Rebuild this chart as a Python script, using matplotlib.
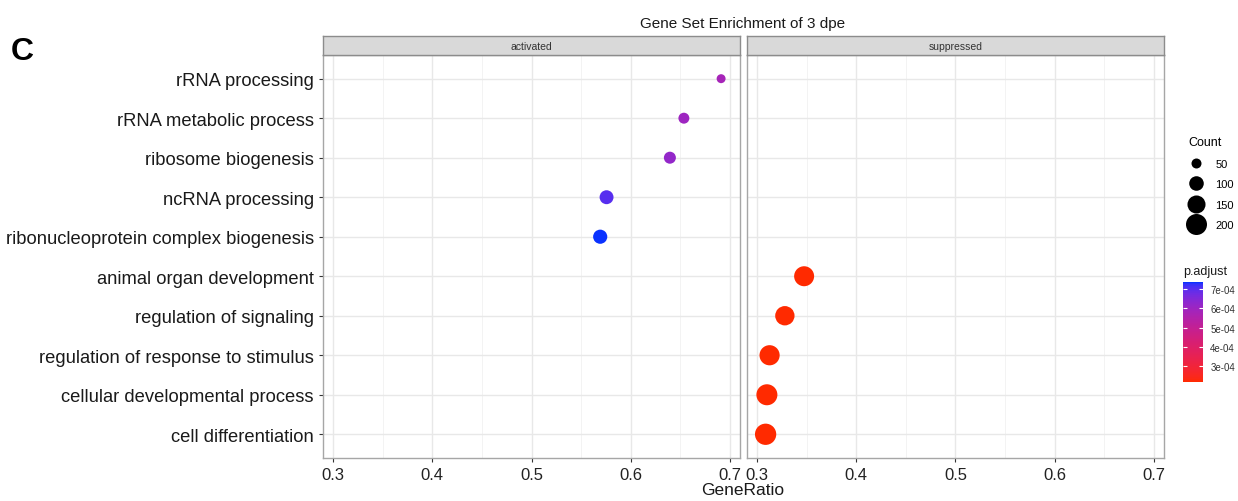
import numpy as np
import matplotlib
matplotlib.use("Agg")
import matplotlib.pyplot as plt
import matplotlib.colors as mcolors
from matplotlib.lines import Line2D

plt.rcParams['font.family'] = ['Liberation Sans', 'DejaVu Sans']

# data
terms_act = ["rRNA processing", "rRNA metabolic process", "ribosome biogenesis",
             "ncRNA processing", "ribonucleoprotein complex biogenesis"]
ratio_act = [0.691, 0.6535, 0.6394, 0.5756, 0.5692]
count_act = [41, 59, 70, 92, 95]
padj_act = [5.8e-4, 6.0e-4, 6.2e-4, 7.0e-4, 7.36e-4]

terms_sup = ["animal organ development", "regulation of signaling",
             "regulation of response to stimulus", "cellular developmental process",
             "cell differentiation"]
ratio_sup = [0.3476, 0.3282, 0.3128, 0.3101, 0.3088]
count_sup = [182, 171, 185, 200, 205]
padj_sup = [2.17e-4, 2.18e-4, 2.18e-4, 2.17e-4, 2.17e-4]

legend_counts = [50, 100, 150, 200]
padj_ticks = [3e-4, 4e-4, 5e-4, 6e-4, 7e-4]

terms = terms_act + terms_sup


# ggplot-like gradient (interpolated in Lab space)
WHITE = np.array([0.95047, 1.0, 1.08883])
M = np.array([[0.4124, 0.3576, 0.1805], [0.2126, 0.7152, 0.0722], [0.0193, 0.1192, 0.9505]])

def to_lab(c):
    rgb = np.array(mcolors.to_rgb(c))
    lin = np.where(rgb <= 0.04045, rgb / 12.92, ((rgb + 0.055) / 1.055) ** 2.4)
    xyz = M @ lin / WHITE
    f = np.where(xyz > 0.008856, np.cbrt(xyz), 7.787 * xyz + 16 / 116)
    return np.array([116 * f[1] - 16, 500 * (f[0] - f[1]), 200 * (f[1] - f[2])])

def from_lab(lab):
    fy = (lab[0] + 16) / 116
    f = np.array([fy + lab[1] / 500, fy, fy - lab[2] / 200])
    xyz = np.where(f ** 3 > 0.008856, f ** 3, (f - 16 / 116) / 7.787) * WHITE
    lin = np.linalg.solve(M, xyz)
    lin = np.clip(lin, 0, 1)
    rgb = np.where(lin <= 0.0031308, 12.92 * lin, 1.055 * lin ** (1 / 2.4) - 0.055)
    return np.clip(rgb, 0, 1)

lo, hi = to_lab("#ff2a00"), to_lab("#0a32ff")
cmap = mcolors.ListedColormap([from_lab(lo + (hi - lo) * t) for t in np.linspace(0, 1, 256)])
all_p = padj_act + padj_sup
norm = mcolors.Normalize(min(all_p), max(all_p))

PX = 0.72  # points per pixel at dpi 100
def msize(c):
    d = -1 + 1.556 * np.sqrt(np.asarray(c, float))  # diameter in px
    return (d * PX) ** 2

all_r = ratio_act + ratio_sup
rng = max(all_r) - min(all_r)
xlim = (min(all_r) - 0.05 * rng, max(all_r) + 0.05 * rng)

fig = plt.figure(figsize=(12.38, 5.02), dpi=100)
bottom, height = 0.0857, 0.8028
ax1 = fig.add_axes([0.2607, bottom, 0.3371, height])
ax2 = fig.add_axes([0.6031, bottom, 0.3371, height])

ypos = {t: len(terms) - i for i, t in enumerate(terms)}

for ax, tt, rr, cc, pp, lab in [(ax1, terms_act, ratio_act, count_act, padj_act, "activated"),
                                (ax2, terms_sup, ratio_sup, count_sup, padj_sup, "suppressed")]:
    ax.scatter(rr, [ypos[t] for t in tt], s=msize(cc), c=pp, cmap=cmap, norm=norm,
               linewidths=0, zorder=3)
    ax.set_xlim(xlim)
    ax.set_ylim(0.4, len(terms) + 0.6)
    ax.set_xticks([0.3, 0.4, 0.5, 0.6, 0.7])
    ax.set_xticks([0.35, 0.45, 0.55, 0.65], minor=True)
    ax.set_yticks(list(ypos.values()))
    ax.grid(True, which='major', color='#e8e8e8', lw=1.0, zorder=0)
    ax.grid(True, which='minor', axis='x', color='#f1f1f1', lw=0.6, zorder=0)
    ax.set_axisbelow(True)
    for sp in ax.spines.values():
        sp.set_color('#a6a6a6')
        sp.set_linewidth(1.0)
    ax.tick_params(axis='x', which='major', labelsize=12, colors='#333333', length=3, labelcolor='#222222')
    ax.tick_params(axis='x', which='minor', length=0)
    ax.tick_params(axis='y', length=3, colors='#333333')
    ax.xaxis.set_major_formatter(matplotlib.ticker.FormatStrFormatter('%g'))
    # facet strip
    pos = ax.get_position()
    sax = fig.add_axes([pos.x0, pos.y1, pos.width, 0.0385])
    sax.set_facecolor('#d9d9d9')
    sax.set_xticks([]); sax.set_yticks([])
    for sp in sax.spines.values():
        sp.set_color('#8c8c8c')
        sp.set_linewidth(1.0)
    sax.text(0.5, 0.45, lab, ha='center', va='center', fontsize=7.5, color='#333333',
             transform=sax.transAxes)

ax1.set_yticklabels(terms, fontsize=13.2, color='#1a1a1a')
ax2.tick_params(axis='y', left=False, labelleft=False)

fig.text(0.6, 0.953, "Gene Set Enrichment of 3 dpe", ha='center', va='center', fontsize=11, color='#1a1a1a')
fig.text(0.6, 0.022, "GeneRatio", ha='center', va='center', fontsize=12.5, color='#1a1a1a')
fig.text(0.009, 0.897, "C", ha='left', va='center', fontsize=23, fontweight='bold',
         family=['Liberation Sans', 'DejaVu Sans'])

# Count legend
handles = [Line2D([], [], ls='', marker='o', color='black', markeredgewidth=0,
                  markersize=np.sqrt(msize(c))) for c in legend_counts]
leg = fig.legend(handles, [str(c) for c in legend_counts], title="Count",
                 loc='upper left', bbox_to_anchor=(0.9555, 0.738), frameon=False,
                 fontsize=8, title_fontsize=9, labelspacing=0.95, handlelength=1.3,
                 handletextpad=1.1, borderpad=0, alignment='left')

# p.adjust colorbar
cax = fig.add_axes([0.9555, 0.237, 0.0165, 0.199])
sm = plt.cm.ScalarMappable(norm=norm, cmap=cmap)
cb = fig.colorbar(sm, cax=cax, ticks=padj_ticks)
cb.outline.set_visible(False)
cb.ax.set_yticklabels(["%.0e" % v for v in padj_ticks])
cax.tick_params(axis='y', direction='in', length=3, color='white', width=0.8,
                labelsize=7, labelcolor='#333333', left=True, right=True, pad=5)
fig.text(0.9555, 0.447, "p.adjust", ha='left', va='bottom', fontsize=9, color='#1a1a1a')

fig.savefig("out.png", dpi=100)
